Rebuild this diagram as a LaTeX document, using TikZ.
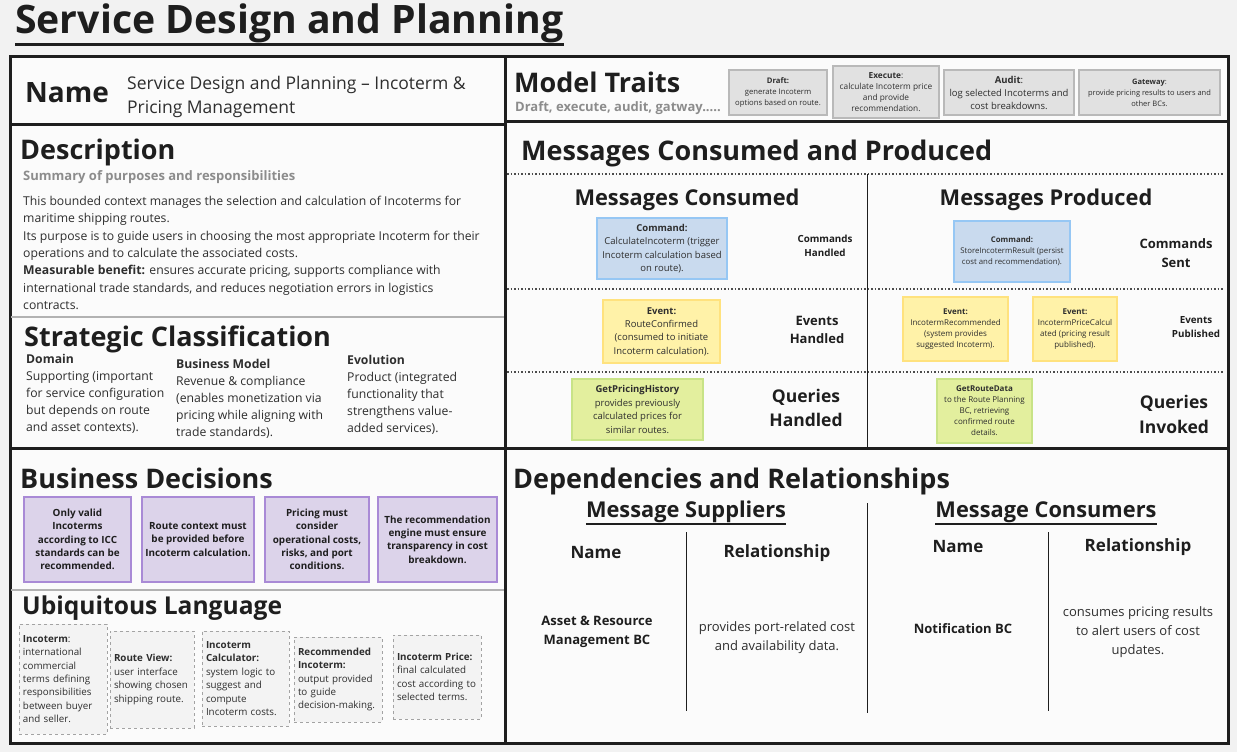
\documentclass[tikz,border=0pt]{standalone}
\usepackage{fontspec}
\setmainfont{Open Sans}
\usetikzlibrary{positioning}
\definecolor{ink}{HTML}{1E1E1E}
\definecolor{bodyink}{HTML}{2E2E2E}
\definecolor{subgrey}{HTML}{8C8C8C}
\definecolor{canvas}{HTML}{F2F2F2}
\definecolor{panel}{HTML}{FBFBFB}
\definecolor{cmdfill}{HTML}{C9DAEE}
\definecolor{cmdline}{HTML}{96C7F4}
\definecolor{evtfill}{HTML}{FFF2A8}
\definecolor{evtline}{HTML}{FFE27E}
\definecolor{qryfill}{HTML}{E3EF9E}
\definecolor{qryline}{HTML}{C8E387}
\definecolor{rulefill}{HTML}{DCD3EA}
\definecolor{ruleline}{HTML}{A98AD6}
\definecolor{traitfill}{HTML}{E1E1E1}
\definecolor{traitline}{HTML}{B9B9B9}
\definecolor{termfill}{HTML}{F3F3F3}
\definecolor{termline}{HTML}{A3A3A3}

\begin{document}
\begin{tikzpicture}[x=1pt, y=-1pt,
  every node/.style={inner sep=0pt, text=ink},
  heading/.style={anchor=west, font=\fontsize{27}{30}\selectfont\bfseries},
  colhead/.style={font=\fontsize{21.8}{24}\selectfont\bfseries},
  tablehead/.style={font=\fontsize{17}{20}\selectfont\bfseries},
  body/.style={align=left, text=bodyink, font=\fontsize{12.2}{17.4}\selectfont},
  frameline/.style={line width=3pt, draw=ink},
  softline/.style={line width=2pt, draw=black!30},
  dotline/.style={line width=1.5pt, draw=black!70, dotted},
  thinline/.style={line width=1pt, draw=ink},
  msgbox/.style={draw, line width=2pt, align=center, text=bodyink, font=\fontsize{9.5}{13.4}\selectfont},
  smallbox/.style={msgbox, font=\fontsize{8}{11}\selectfont},
  command/.style={fill=cmdfill, draw=cmdline},
  event/.style={fill=evtfill, draw=evtline},
  query/.style={fill=qryfill, draw=qryline},
  trait/.style={draw=traitline, fill=traitfill, line width=2pt, align=center, text=bodyink},
  decision/.style={draw=ruleline, fill=rulefill, line width=2pt, align=center, font=\fontsize{9.9}{13.3}\selectfont\bfseries},
  term/.style={draw=termline, fill=termfill, dashed, line width=1pt, align=left, inner sep=4pt, text=bodyink, font=\fontsize{9.8}{13.4}\selectfont},
  msglabel/.style={align=center, font=\bfseries}]

\fill[canvas] (0,0) rectangle (1237,752);
\node[anchor=base west, font=\fontsize{39.2}{44}\selectfont\bfseries] (title) at (15,34) {Service Design and Planning};
\draw[line width=3pt, ink] ([yshift=-1pt]title.south west) -- ([yshift=-1pt]title.south east);

\draw[frameline, fill=panel] (10,57) rectangle (1228,743);
\draw[frameline] (505,57) -- (505,743);
\draw[frameline] (10,124) -- (505,124);
\draw[frameline] (505,121) -- (1228,121);
\draw[softline] (11,317) -- (504,317);
\draw[frameline] (10,448) -- (1228,448);
\draw[softline] (11,590) -- (504,590);

% name and model traits
\node[anchor=west, font=\fontsize{28}{30}\selectfont\bfseries] (name) at (25,93) {Name};
\node[anchor=west, align=left, text=bodyink, font=\fontsize{17.5}{24}\selectfont] (nameval) at (127,97) {Service Design and Planning -- Incoterm \&\\Pricing Management};
\node[heading] (traits) at (514,82) {Model Traits};
\node[anchor=west, text=subgrey, font=\fontsize{13}{15}\selectfont\bfseries] (traitsub) at (515,108) {Draft, execute, audit, gatway.....};
\node[trait, minimum width=98pt, minimum height=45pt, font=\fontsize{7.7}{11}\selectfont] (draft) at (778,92.5) {\textbf{Draft:}\\generate Incoterm\\options based on route.};
\node[trait, minimum width=106pt, minimum height=52pt, font=\fontsize{8.3}{11}\selectfont] (execute) at (886,92) {\textbf{Execute}:\\calculate Incoterm price\\and provide\\recommendation.};
\node[trait, minimum width=130pt, minimum height=45pt, font=\fontsize{9.5}{13}\selectfont] (audit) at (1009,92.5) {\textbf{Audit}:\\log selected Incoterms and\\cost breakdowns.};
\node[trait, minimum width=141pt, minimum height=45pt, font=\fontsize{7.5}{11}\selectfont] (gateway) at (1149.5,92.5) {\textbf{Gateway}:\\provide pricing results to users and\\other BCs.};

% description
\node[heading] (desc) at (20,152) {Description};
\node[anchor=west, text=subgrey, font=\fontsize{13}{15}\selectfont\bfseries] (descsub) at (23,177) {Summary of purposes and responsibilities};
\node[body, anchor=west] (desctext) at (23,253) {This bounded context manages the selection and calculation of Incoterms for\\maritime shipping routes.\\Its purpose is to guide users in choosing the most appropriate Incoterm for their\\operations and to calculate the associated costs.\\\textbf{Measurable benefit:} ensures accurate pricing, supports compliance with\\international trade standards, and reduces negotiation errors in logistics\\contracts.};

% strategic classification
\node[heading] (strategic) at (24,339) {Strategic Classification};
\node[body, anchor=west, font=\fontsize{12.2}{17}\selectfont] (domain) at (26,394) {\textbf{Domain}\\Supporting (important\\for service configuration\\but depends on route\\and asset contexts).};
\node[body, anchor=west, font=\fontsize{12.2}{17}\selectfont] (bizmodel) at (176,399) {\textbf{Business Model}\\Revenue \& compliance\\(enables monetization via\\pricing while aligning with\\trade standards).};
\node[body, anchor=west, font=\fontsize{12.2}{17}\selectfont] (evolution) at (347,394.5) {\textbf{Evolution}\\Product (integrated\\functionality that\\strengthens value-\\added services).};

% business decisions
\node[heading] (decisions) at (20,478) {Business Decisions};
\node[decision, minimum width=107pt, minimum height=85pt] (dec1) at (77.5,539.5) {Only valid\\Incoterms\\according to ICC\\standards can be\\recommended.};
\node[decision, minimum width=112pt, minimum height=85pt] (dec2) at (198,539.5) {Route context must\\be provided before\\Incoterm calculation.};
\node[decision, minimum width=104pt, minimum height=85pt] (dec3) at (317,539.5) {Pricing must\\consider\\operational costs,\\risks, and port\\conditions.};
\node[decision, minimum width=119pt, minimum height=85pt] (dec4) at (437.5,539.5) {The recommendation\\engine must ensure\\transparency in cost\\breakdown.};

% ubiquitous language
\node[heading, font=\fontsize{24.6}{28}\selectfont\bfseries] (language) at (22,608) {Ubiquitous Language};
\node[term, text width=80pt, minimum height=110pt] (term1) at (63,679) {\textbf{Incoterm}:\\international\\commercial\\terms defining\\responsibilities\\between buyer\\and seller.};
\node[term, text width=76pt, minimum height=97pt] (term2) at (152,679.5) {\textbf{Route View:}\\user interface\\showing chosen\\shipping route.};
\node[term, text width=79pt, minimum height=95pt] (term3) at (245.5,678.5) {\textbf{Incoterm}\\\textbf{Calculator:}\\system logic to\\suggest and\\compute\\Incoterm costs.};
\node[term, text width=80pt, minimum height=85pt] (term4) at (338,679.5) {\textbf{Recommended}\\\textbf{Incoterm:}\\output provided\\to guide\\decision-making.};
\node[term, text width=80pt, minimum height=84pt] (term5) at (437,677) {\textbf{Incoterm Price:}\\final calculated\\cost according to\\selected terms.};

% messages consumed and produced
\node[heading] (messages) at (521,153) {Messages Consumed and Produced};
\draw[dotline] (507,174) -- (1224,174);
\draw[dotline] (507,289) -- (1224,289);
\draw[dotline] (507,372) -- (1224,372);
\draw[thinline] (867,174) -- (867,448);
\node[colhead] (consumed) at (687,200) {Messages Consumed};
\node[colhead] (produced) at (1046,200) {Messages Produced};

\node[msgbox, command, minimum width=130pt, minimum height=61pt] (cmdin) at (662,248.5) {\textbf{Command:}\\CalculateIncoterm (trigger\\Incoterm calculation based\\on route).};
\node[msgbox, event, minimum width=117pt, minimum height=63pt] (evtin) at (661.5,331.5) {\textbf{Event:}\\RouteConfirmed\\(consumed to initiate\\Incoterm calculation).};
\node[msgbox, query, minimum width=131pt, minimum height=61pt] (qryin) at (637.5,409.5) {\textbf{GetPricingHistory}\\provides previously\\calculated prices for\\similar routes.};
\node[msglabel, font=\fontsize{9.8}{13.5}\selectfont\bfseries] (cmdhandled) at (825,246) {Commands\\Handled};
\node[msglabel, font=\fontsize{13}{18.5}\selectfont\bfseries] (evthandled) at (817,330) {Events\\Handled};
\node[msglabel, font=\fontsize{17.5}{24.5}\selectfont\bfseries] (qryhandled) at (806,408) {Queries\\Handled};

\node[smallbox, command, minimum width=116pt, minimum height=61pt, font=\fontsize{7.8}{11}\selectfont] (cmdout) at (1012,251.5) {\textbf{Command:}\\StoreIncotermResult (persist\\cost and recommendation).};
\node[smallbox, event, minimum width=105pt, minimum height=64pt] (evtout1) at (955.5,329) {\textbf{Event:}\\IncotermRecommended\\(system provides\\suggested Incoterm).};
\node[smallbox, event, minimum width=84pt, minimum height=64pt] (evtout2) at (1075,329) {\textbf{Event:}\\IncotermPriceCalcul\\ated (pricing result\\published).};
\node[smallbox, query, minimum width=95pt, minimum height=64pt] (qryout) at (984.5,411) {\textbf{GetRouteData}\\to the Route Planning\\BC, retrieving\\confirmed route\\details.};
\node[msglabel, font=\fontsize{13}{19}\selectfont\bfseries] (cmdsent) at (1176,253) {Commands\\Sent};
\node[msglabel, font=\fontsize{9.8}{14}\selectfont\bfseries] (evtpublished) at (1196,327) {Events\\Published};
\node[msglabel, font=\fontsize{17.5}{25}\selectfont\bfseries] (qryinvoked) at (1174,414) {Queries\\Invoked};

% dependencies and relationships
\node[heading] (dependencies) at (513,481) {Dependencies and Relationships};
\node[colhead] (suppliers) at (686,512) {Message Suppliers};
\node[colhead] (consumers) at (1046,512) {Message Consumers};
\draw[line width=2pt, ink] ([yshift=-1pt]suppliers.south west) -- ([yshift=-1pt]suppliers.south east);
\draw[line width=2pt, ink] ([yshift=-1pt]consumers.south west) -- ([yshift=-1pt]consumers.south east);
\draw[thinline] (867,503) -- (867,713);
\draw[thinline] (686,532) -- (686,711);
\draw[thinline] (1048,532) -- (1048,711);
\node[tablehead] (supname) at (596,553) {Name};
\node[tablehead] (suprel) at (777,553) {Relationship};
\node[tablehead] (conname) at (958,547) {Name};
\node[tablehead] (conrel) at (1138,547) {Relationship};
\node[align=center, font=\fontsize{13}{19}\selectfont\bfseries] (supplier) at (597,632) {Asset \& Resource\\Management BC};
\node[align=center, text=bodyink, font=\fontsize{13}{19}\selectfont] (supplierrel) at (777,638) {provides port-related cost\\and availability data.};
\node[align=center, font=\fontsize{13}{19}\selectfont\bfseries] (consumer) at (963,629) {Notification BC};
\node[align=center, text=bodyink, font=\fontsize{13}{19}\selectfont] (consumerrel) at (1138,632) {consumes pricing results\\to alert users of cost\\updates.};
\end{tikzpicture}
\end{document}
